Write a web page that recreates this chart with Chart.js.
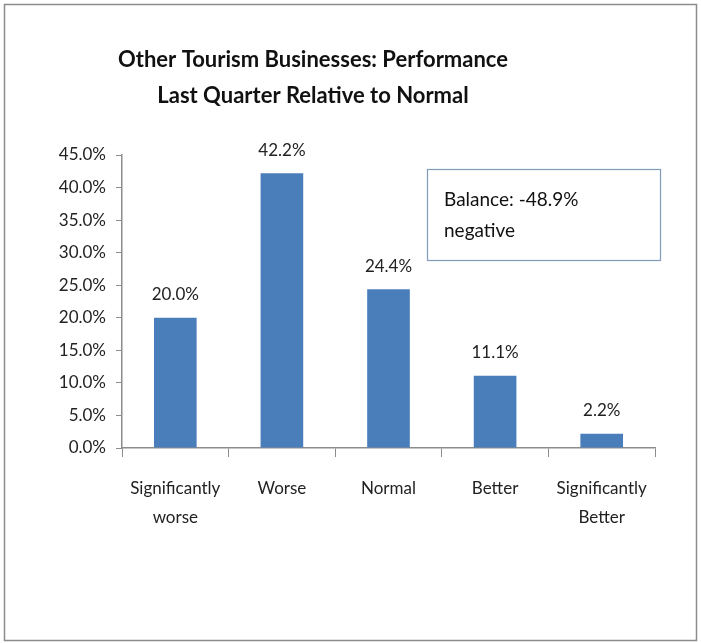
<!DOCTYPE html>
<html>
<head>
<meta charset="utf-8">
<script src="https://cdn.jsdelivr.net/npm/chart.js@4/dist/chart.umd.min.js"></script>
<style>
  html, body { margin: 0; padding: 0; background: #fff; }
  #wrap { width: 701px; height: 643px; }
</style>
</head>
<body>
<div id="wrap"><canvas id="chart" width="701" height="643"></canvas></div>
<script>
// data
const categories = [['Significantly', 'worse'], 'Worse', 'Normal', 'Better', ['Significantly', 'Better']];
const values = [20.0, 42.2, 24.4, 11.1, 2.2];
const titleLines = ['Other Tourism Businesses: Performance', 'Last Quarter Relative to Normal'];
const noteLines = ['Balance: -48.9%', 'negative'];

const FONT = 'Lato, "Open Sans", sans-serif';

// frame, title, value labels, balance box
const extras = {
    id: 'extras',
    beforeDraw(chart) {
        const ctx = chart.ctx;
        ctx.save();
        ctx.fillStyle = '#fff';
        ctx.fillRect(0, 0, chart.width, chart.height);
        ctx.strokeStyle = '#8c8c8c';
        ctx.lineWidth = 1.5;
        ctx.strokeRect(4.5, 4.5, 692, 636);
        ctx.restore();
    },
    afterDraw(chart) {
        const ctx = chart.ctx;
        ctx.save();
        // title
        ctx.fillStyle = '#111';
        ctx.font = 'bold 22px ' + FONT;
        ctx.textAlign = 'center';
        ctx.textBaseline = 'middle';
        ctx.fillText(titleLines[0], 313, 60);
        ctx.fillText(titleLines[1], 313, 96);

        // value labels
        ctx.font = '17px ' + FONT;
        ctx.fillStyle = '#222';
        const meta = chart.getDatasetMeta(0);
        meta.data.forEach((bar, i) => {
            ctx.fillText(values[i].toFixed(1) + '%', bar.x, bar.y - 23);
        });

        // balance box
        ctx.strokeStyle = '#7f9db9';
        ctx.lineWidth = 1.2;
        ctx.strokeRect(427.5, 169.5, 233, 91);
        ctx.fillStyle = '#111';
        ctx.textAlign = 'left';
        ctx.font = '19px ' + FONT;
        ctx.fillText(noteLines[0], 444, 200);
        ctx.fillText(noteLines[1], 444, 231);
        ctx.restore();
    }
};

new Chart(document.getElementById('chart'), {
    type: 'bar',
    data: {
        labels: categories,
        datasets: [{
            data: values,
            backgroundColor: '#4a7ebb',
            barPercentage: 0.4,
            categoryPercentage: 1.0
        }]
    },
    options: {
        responsive: false,
        animation: false,
        layout: { padding: { left: 0, right: 46, top: 155, bottom: 0 } },
        plugins: {
            legend: { display: false },
            tooltip: { enabled: false }
        },
        scales: {
            x: {
                afterFit: s => { s.height = 643 - 448; },
                grid: {
                    display: true,
                    drawOnChartArea: false,
                    offset: true,
                    tickLength: 9,
                    color: '#8c8c8c'
                },
                border: { color: '#8c8c8c', width: 1.5 },
                ticks: {
                    color: '#222',
                    padding: 17,
                    maxRotation: 0,
                    font: { family: FONT, size: 17, lineHeight: 1.7 }
                }
            },
            y: {
                min: 0,
                max: 45,
                afterFit: s => { s.width = 122; },
                grid: {
                    display: true,
                    drawOnChartArea: false,
                    tickLength: 6,
                    color: '#8c8c8c'
                },
                border: { color: '#8c8c8c', width: 1.5 },
                ticks: {
                    stepSize: 5,
                    color: '#222',
                    padding: 10,
                    font: { family: FONT, size: 17 },
                    callback: v => v.toFixed(1) + '%'
                }
            }
        }
    },
    plugins: [extras]
});
</script>
</body>
</html>
